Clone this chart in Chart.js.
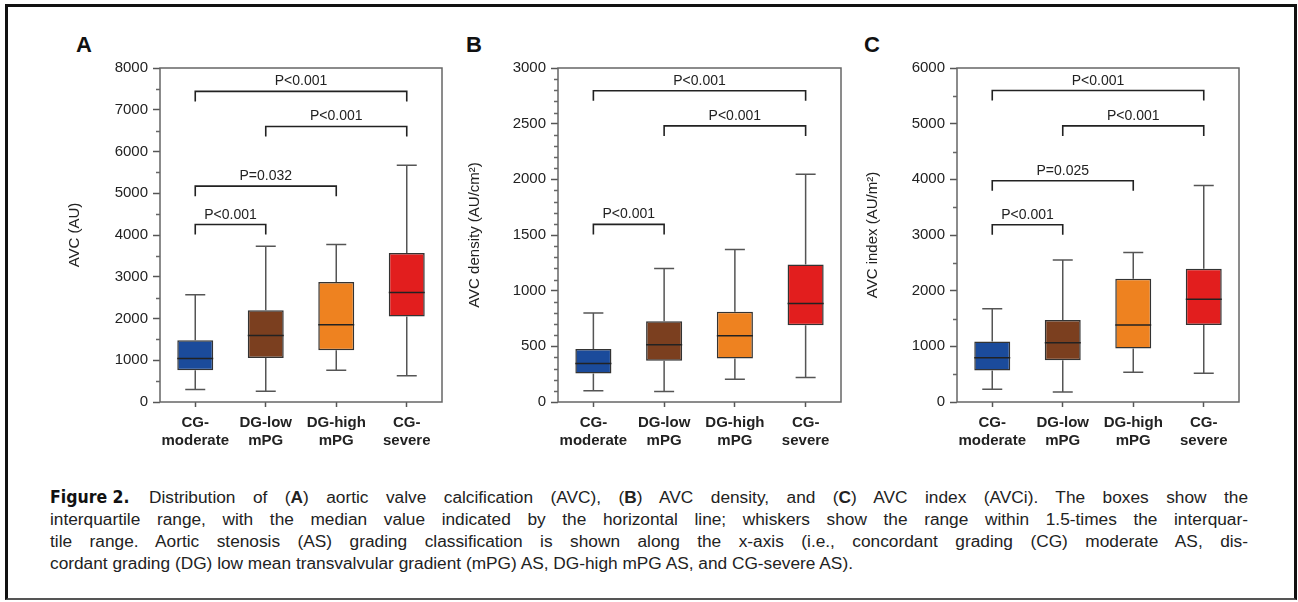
<!DOCTYPE html>
<html>
<head>
<meta charset="utf-8">
<script src="https://cdn.jsdelivr.net/npm/chart.js@4/dist/chart.umd.min.js"></script>
<style>
  body { margin: 0; background: #fff; width: 1298px; height: 602px; overflow: hidden;
         font-family: "Liberation Sans", Arial, sans-serif; position: relative; }
  #frame { position: absolute; left: 5px; top: 4px; width: 1292px; height: 596px;
           border: 3px solid #111; border-bottom: 2px solid #555; box-sizing: border-box; }
  canvas { position: absolute; top: 20px; }
  .letter { position: absolute; top: 32px; font: bold 22px "Liberation Sans", Arial, sans-serif; color: #111; }
  #caption { position: absolute; left: 50px; top: 486px; width: 1198px; color: #222;
             font-size: 17.3px; line-height: 22px; }
  #caption div { text-align: justify; text-align-last: justify; }
  #caption div.last { text-align: left; text-align-last: left; }
  #caption .fig { display: inline-block; width: 99px; white-space: nowrap; text-align: left; text-align-last: left;
         font-family: "Liberation Sans Narrow", "DejaVu Sans Condensed", sans-serif; font-weight: bold;
         font-stretch: condensed; font-size: 17.5px; color: #111; }
</style>
</head>
<body>
<div id="frame"></div>
<div class="letter" style="left:76px">A</div>
<div class="letter" style="left:466px">B</div>
<div class="letter" style="left:864px">C</div>
<canvas id="chartA" width="420" height="450" style="left:30px"></canvas>
<canvas id="chartB" width="410" height="450" style="left:450px"></canvas>
<canvas id="chartC" width="410" height="450" style="left:860px"></canvas>
<div id="caption">
  <div><span class="fig">Figure 2.</span>Distribution of (<b>A</b>) aortic valve calcification (AVC), (<b>B</b>) AVC density, and (<b>C</b>) AVC index (AVCi). The boxes show the</div>
  <div>interquartile range, with the median value indicated by the horizontal line; whiskers show the range within 1.5-times the interquar-</div>
  <div>tile range. Aortic stenosis (AS) grading classification is shown along the x-axis (i.e., concordant grading (CG) moderate AS, dis-</div>
  <div class="last">cordant grading (DG) low mean transvalvular gradient (mPG) AS, DG-high mPG AS, and CG-severe AS).</div>
</div>
<script>
const categories = [["CG-", "moderate"], ["DG-low", "mPG"], ["DG-high", "mPG"], ["CG-", "severe"]];
const boxColors = ["#1b4b9b", "#7b3f1f", "#ee8220", "#e21e1e"];

// A: AVC (AU)
const avcMin = [300, 255, 760, 630];
const avcQ1 = [760, 1055, 1240, 2050];
const avcMedian = [1040, 1590, 1850, 2620];
const avcQ3 = [1480, 2200, 2875, 3570];
const avcMax = [2570, 3730, 3770, 5670];
const avcBrackets = [[0, 3, 7440, "P<0.001"], [1, 3, 6600, "P<0.001"], [0, 2, 5170, "P=0.032"], [0, 1, 4250, "P<0.001"]];

// B: AVC density
const densMin = [100, 95, 205, 220];
const densQ1 = [255, 370, 390, 690];
const densMedian = [345, 515, 595, 885];
const densQ3 = [475, 725, 810, 1235];
const densMax = [800, 1200, 1370, 2045];
const densBrackets = [[0, 3, 2795, "P<0.001"], [1, 3, 2480, "P<0.001"], [0, 1, 1595, "P<0.001"]];

// C: AVC index
const idxMin = [230, 180, 535, 515];
const idxQ1 = [565, 750, 960, 1385];
const idxMedian = [795, 1065, 1385, 1845];
const idxQ3 = [1085, 1475, 2215, 2395];
const idxMax = [1675, 2550, 2685, 3890];
const idxBrackets = [[0, 3, 5595, "P<0.001"], [1, 3, 4960, "P<0.001"], [0, 2, 3975, "P=0.025"], [0, 1, 3185, "P<0.001"]];

const FONT = "'Liberation Sans', Arial, sans-serif";

function makePanel(id, yTitle, lo, q1, med, q3, hi, brackets, yMax, step, minorStep, yWidth, titlePad, rightPad) {
  const extras = {
    id: "boxExtras",
    afterDraw(chart) {
      const c = chart.ctx, y = chart.scales.y, x = chart.scales.x, a = chart.chartArea;
      const meta = chart.getDatasetMeta(0);
      c.save();
      // frame
      c.strokeStyle = "#666";
      c.lineWidth = 1.5;
      c.strokeRect(a.left, a.top, a.right - a.left, a.bottom - a.top);
      // minor ticks
      c.beginPath();
      for (let v = minorStep; v < yMax; v += minorStep) {
        if (v % step === 0) continue;
        const py = Math.round(y.getPixelForValue(v)) + 0.5;
        c.moveTo(a.left - 4, py);
        c.lineTo(a.left, py);
      }
      c.stroke();
      // whiskers + median
      meta.data.forEach((bar, i) => {
        const bx = bar.x, hw = bar.width / 2;
        c.strokeStyle = "#555";
        c.lineWidth = 1.5;
        c.beginPath();
        c.moveTo(bx, y.getPixelForValue(q3[i]));
        c.lineTo(bx, y.getPixelForValue(hi[i]));
        c.moveTo(bx - 10, y.getPixelForValue(hi[i]));
        c.lineTo(bx + 10, y.getPixelForValue(hi[i]));
        c.moveTo(bx, y.getPixelForValue(q1[i]));
        c.lineTo(bx, y.getPixelForValue(lo[i]));
        c.moveTo(bx - 10, y.getPixelForValue(lo[i]));
        c.lineTo(bx + 10, y.getPixelForValue(lo[i]));
        c.stroke();
        c.strokeStyle = "#222";
        c.beginPath();
        c.moveTo(bx - hw, y.getPixelForValue(med[i]));
        c.lineTo(bx + hw, y.getPixelForValue(med[i]));
        c.stroke();
      });
      // significance brackets
      c.strokeStyle = "#222";
      c.fillStyle = "#222";
      c.lineWidth = 1.6;
      c.font = "14px " + FONT;
      c.textAlign = "center";
      c.textBaseline = "alphabetic";
      brackets.forEach(([from, to, v, label]) => {
        const x1 = x.getPixelForValue(from), x2 = x.getPixelForValue(to);
        const py = y.getPixelForValue(v);
        c.beginPath();
        c.moveTo(x1, py + 10);
        c.lineTo(x1, py);
        c.lineTo(x2, py);
        c.lineTo(x2, py + 10);
        c.stroke();
        c.fillText(label, (x1 + x2) / 2, py - 6);
      });
      c.restore();
    }
  };

  return new Chart(document.getElementById(id), {
    type: "bar",
    data: {
      labels: categories,
      datasets: [{
        data: q1.map((v, i) => [v, q3[i]]),
        backgroundColor: boxColors,
        borderColor: "#333",
        borderWidth: 1.5,
        borderSkipped: false,
        categoryPercentage: 1,
        barPercentage: 0.51
      }]
    },
    options: {
      responsive: false,
      animation: false,
      layout: { padding: { top: 48, right: rightPad, left: 0, bottom: 0 } },
      plugins: { legend: { display: false }, tooltip: { enabled: false } },
      scales: {
        x: {
          afterFit: s => { s.height = 68; },
          border: { display: false },
          grid: { offset: false, drawOnChartArea: false, tickLength: 5, tickColor: "#555", tickWidth: 1.5 },
          ticks: { color: "#222", font: { family: FONT, size: 15, weight: "bold" }, padding: 7, maxRotation: 0, autoSkip: false }
        },
        y: {
          min: 0, max: yMax,
          afterFit: s => { s.width = yWidth; },
          border: { display: false },
          grid: { drawOnChartArea: false, tickLength: 7, tickColor: "#555", tickWidth: 1.5 },
          ticks: { stepSize: step, color: "#222", font: { family: FONT, size: 15 }, padding: 5, callback: v => String(v) },
          title: { display: true, text: yTitle, color: "#222", font: { family: FONT, size: 15 }, padding: { top: titlePad, bottom: 0 } }
        }
      }
    },
    plugins: [extras]
  });
}

makePanel("chartA", "AVC (AU)", avcMin, avcQ1, avcMedian, avcQ3, avcMax, avcBrackets, 8000, 1000, 500, 130, 36, 8);
makePanel("chartB", "AVC density (AU/cm²)", densMin, densQ1, densMedian, densQ3, densMax, densBrackets, 3000, 500, 100, 108, 16, 19);
makePanel("chartC", "AVC index (AU/m²)", idxMin, idxQ1, idxMedian, idxQ3, idxMax, idxBrackets, 6000, 1000, 500, 97, 4, 31);
</script>
</body>
</html>
